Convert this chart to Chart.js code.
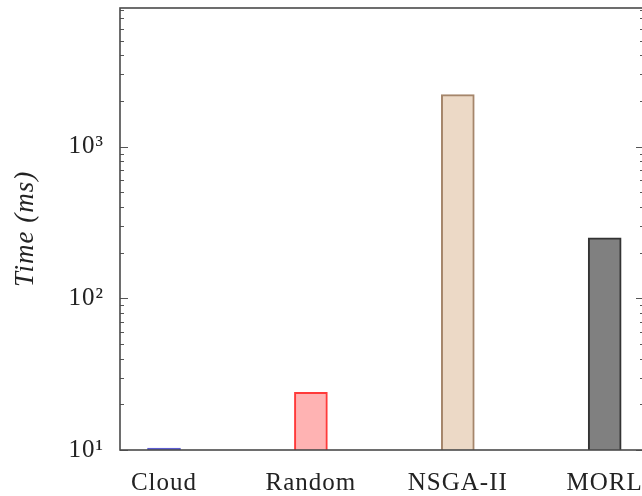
<!DOCTYPE html>
<html>
<head>
<meta charset="utf-8">
<script src="https://cdn.jsdelivr.net/npm/chart.js@4.4.1/dist/chart.umd.min.js"></script>
<style>
  html, body { margin: 0; padding: 0; background: #fff; overflow: hidden; }
  #wrap { position: absolute; left: 0; top: 0; width: 650px; height: 496px; }
</style>
</head>
<body>
<div id="wrap"><canvas id="c"></canvas></div>
<script>
// Mean run time per method (ms), log axis
const categories = ['Cloud', 'Random', 'NSGA-II', 'MORL'];
const timeMs = [10.3, 24, 2200, 250];
const fillColors = ['#6a6ad8', '#ffb3b3', '#ecd9c6', '#808080'];
const borderColors = ['#5b5bd0', '#ff3a3a', '#a5866b', '#333333'];
const yTickValues = [10, 100, 1000];
const yTickLabels = ['10\u00b9', '10\u00b2', '10\u00b3'];

const SERIF = '"Liberation Serif", "Times New Roman", serif';

// Slightly looser letter spacing for all text
const spacingPlugin = {
  id: 'spacing',
  beforeDraw(chart) { chart.ctx.letterSpacing = '1px'; }
};

// Frame around the plot area with inward log ticks on both sides
const framePlugin = {
  id: 'frame',
  afterDatasetsDraw(chart) {
    const { ctx, chartArea: a, scales } = chart;
    const ys = scales.y;
    ctx.save();
    ctx.strokeStyle = '#555';
    ctx.lineWidth = 1;
    for (let k = 1; k <= 4; k++) {
      for (let m = 1; m <= 9; m++) {
        const v = m * Math.pow(10, k);
        if (v < ys.min || v > ys.max) continue;
        const y = Math.round(ys.getPixelForValue(v)) + 0.5;
        const len = m === 1 ? 8 : 4;
        ctx.beginPath();
        ctx.moveTo(a.left, y); ctx.lineTo(a.left + len, y);
        ctx.moveTo(a.right, y); ctx.lineTo(a.right - len, y);
        ctx.stroke();
      }
    }
    ctx.strokeStyle = '#4a4a4a';
    ctx.lineWidth = 1.6;
    ctx.strokeRect(a.left, a.top, a.right - a.left, a.bottom - a.top);
    ctx.restore();
  }
};

new Chart(document.getElementById('c'), {
  type: 'bar',
  data: {
    datasets: [{
      data: timeMs.map((v, i) => ({ x: i, y: v })),
      backgroundColor: fillColors,
      borderColor: borderColors,
      borderWidth: 2,
      barThickness: 33
    }]
  },
  options: {
    responsive: true,
    maintainAspectRatio: false,
    animation: false,
    layout: { padding: { top: 8, right: 6, bottom: 0, left: 0 } },
    plugins: { legend: { display: false }, tooltip: { enabled: false } },
    scales: {
      x: {
        type: 'linear',
        offset: false,
        bounds: 'data',
        min: -0.2995,
        max: 3.2675,
        grid: { display: false, drawTicks: false },
        border: { display: false },
        afterBuildTicks(s) { s.ticks = categories.map((_, i) => ({ value: i })); },
        afterFit(s) { s.height = 46; s.paddingLeft = 0; s.paddingRight = 0; },
        ticks: {
          padding: 18,
          color: '#222',
          font: { family: SERIF, size: 25 },
          callback: (v) => categories[v]
        }
      },
      y: {
        type: 'logarithmic',
        min: 10,
        max: 8200,
        grid: { display: false, drawTicks: false },
        border: { display: false },
        afterBuildTicks(s) { s.ticks = yTickValues.map(v => ({ value: v })); },
        afterFit(s) { s.width = 120; s.paddingTop = 0; s.paddingBottom = 0; },
        ticks: {
          padding: 16,
          color: '#222',
          font: { family: SERIF, size: 25 },
          callback: (v) => yTickLabels[yTickValues.indexOf(v)]
        },
        title: {
          display: true,
          text: 'Time (ms)',
          color: '#222',
          padding: { top: 10, bottom: 0 },
          font: { family: SERIF, size: 27, style: 'italic' }
        }
      }
    }
  },
  plugins: [spacingPlugin, framePlugin]
});
</script>
</body>
</html>
